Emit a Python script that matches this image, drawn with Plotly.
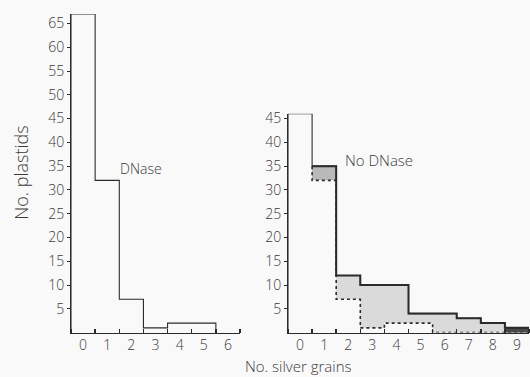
import plotly.graph_objects as go

# ---- data ----
dnase_bins = [0, 1, 2, 3, 4, 5, 6]
dnase_counts = [67, 32, 7, 1, 2, 2, 0]
nodnase_bins = [0, 1, 2, 3, 4, 5, 6, 7, 8, 9]
nodnase_counts = [46, 35, 12, 10, 10, 4, 4, 3, 2, 1]
y_ticks_left = [5, 10, 15, 20, 25, 30, 35, 40, 45, 50, 55, 60, 65]
y_ticks_right = [5, 10, 15, 20, 25, 30, 35, 40, 45]

W, H = 530, 377
ink = "#2b2b2b"
txt = "#3a3a3a"
FONT = "Open Sans"

def px(x):
    return x / W

def py(y):
    return 1 - y / H

fig = go.Figure()

# ---- left panel: DNase outline histogram ----
lx = [dnase_bins[0] - 0.5] + [b - 0.5 for b in dnase_bins]
ly = [0] + dnase_counts
fig.add_trace(go.Scatter(x=lx, y=ly, mode="lines", line=dict(shape="hv", color=ink, width=1.1),
                         xaxis="x", yaxis="y", showlegend=False, hoverinfo="skip"))

# ---- right panel: shaded difference between No DNase and DNase ----
dn_pad = dnase_counts + [0] * (len(nodnase_bins) - len(dnase_counts))
diff_bins = nodnase_bins[1:]
diff_base = dn_pad[1:]
diff_h = [n - d for n, d in zip(nodnase_counts[1:], dn_pad[1:])]
shade = ["#b9b9b9"] + ["#dadada"] * 7 + ["#4a4a4a"]
fig.add_trace(go.Bar(x=diff_bins, y=diff_h, base=diff_base, width=1.0,
                     marker=dict(color=shade, line=dict(width=0)),
                     xaxis="x2", yaxis="y2", showlegend=False, hoverinfo="skip"))

# dotted DNase overlay
dx = [nodnase_bins[1] - 0.5] + [b - 0.5 for b in nodnase_bins[1:]] + [nodnase_bins[-1] + 0.5]
dy = [nodnase_counts[1]] + dn_pad[1:] + [0]
fig.add_trace(go.Scatter(x=dx, y=dy, mode="lines",
                         line=dict(shape="hv", color=ink, width=1.6, dash="dot"),
                         xaxis="x2", yaxis="y2", showlegend=False, hoverinfo="skip"))

# solid No DNase outline
rx = [nodnase_bins[0] - 0.5] + [b - 0.5 for b in nodnase_bins] + [nodnase_bins[-1] + 0.5]
ry = [0] + nodnase_counts + [0]
fig.add_trace(go.Scatter(x=rx, y=ry, mode="lines", line=dict(shape="hv", color=ink, width=1.1),
                         xaxis="x2", yaxis="y2", showlegend=False, hoverinfo="skip"))
# heavier top edges over shaded part
tx = [b - 0.5 for b in nodnase_bins[1:]] + [nodnase_bins[-1] + 0.5]
ty = nodnase_counts[1:] + [0]
fig.add_trace(go.Scatter(x=tx, y=ty, mode="lines", line=dict(shape="hv", color=ink, width=2),
                         xaxis="x2", yaxis="y2", showlegend=False, hoverinfo="skip"))

ybot = 332
unit = 4.82
tickfont = dict(family=FONT, size=14, color=txt, weight=300)

common_x = dict(showline=True, linecolor=ink, linewidth=1, showgrid=False, zeroline=False,
                ticks="", tickfont=tickfont, fixedrange=True,
                minor=dict(ticks="inside", ticklen=4, tickcolor=ink, tickwidth=1.5, tick0=0.5, dtick=1, showgrid=False))
common_y = dict(showline=True, linecolor=ink, linewidth=1, showgrid=False, zeroline=False,
                ticks="outside", ticklen=3, tickcolor=ink, tickfont=tickfont, fixedrange=True)

def label(text, x, y, size, angle=0):
    return dict(text=text, x=px(x), y=py(y), xref="paper", yref="paper", showarrow=False,
                xanchor="center", yanchor="middle", textangle=angle,
                font=dict(family=FONT, size=size, color=txt, weight=300))

fig.update_layout(
    width=W, height=H,
    margin=dict(l=0, r=0, t=0, b=0),
    paper_bgcolor="#f9f9f9", plot_bgcolor="rgba(0,0,0,0)",
    bargap=0,
    xaxis=dict(common_x, domain=[px(71), px(240)], range=[-0.5, 6.5],
               tickvals=dnase_bins, ticktext=[str(b) for b in dnase_bins], anchor="y"),
    yaxis=dict(common_y, domain=[py(ybot), py(ybot - 67 * unit)], range=[0, 67],
               tickvals=y_ticks_left, anchor="x"),
    xaxis2=dict(common_x, domain=[px(288), px(529)], range=[-0.5, 9.5],
                tickvals=nodnase_bins, ticktext=[str(b) for b in nodnase_bins], anchor="y2"),
    yaxis2=dict(common_y, domain=[py(ybot), py(ybot - 46 * unit)], range=[0, 46],
                tickvals=y_ticks_right, anchor="x2"),
    annotations=[
        label("DNase", 141, 166, 14),
        label("No DNase", 379, 157, 15),
        label("No. plastids", 21, 170, 18, -90),
        label("No. silver grains", 298, 366, 15),
    ],
)

fig.write_html("out.html", config={"displayModeBar": False, "staticPlot": True},
               post_script="document.body.style.margin='0';document.body.style.overflow='hidden';")
